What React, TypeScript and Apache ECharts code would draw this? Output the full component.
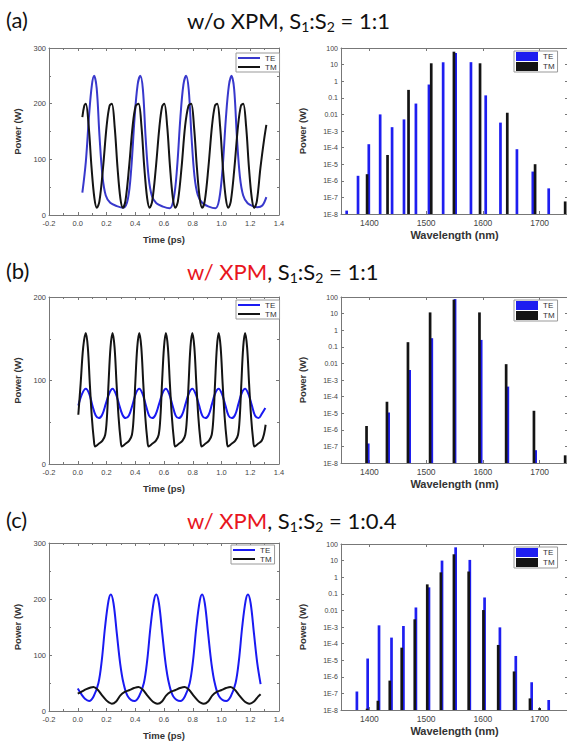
import React, { useEffect, useRef } from "react";
import * as echarts from "echarts";

// ---------- Time-domain traces: [time (ps), power (W)] ----------
const TE_A: number[][] = [
  [0.032, 40], [0.056, 95], [0.079, 180], [0.098, 233], [0.114, 250], [0.132, 227], [0.151, 143], [0.172, 70], [0.195, 35], [0.226, 22], [0.272, 16], [0.319, 13],
  [0.349, 29], [0.372, 83], [0.395, 173], [0.416, 233], [0.435, 250], [0.453, 226], [0.472, 140], [0.493, 68], [0.516, 34], [0.547, 21], [0.593, 15], [0.640, 12],
  [0.668, 30], [0.691, 85], [0.714, 175], [0.735, 234], [0.754, 250], [0.772, 225], [0.791, 142], [0.812, 70], [0.835, 36], [0.866, 22], [0.912, 15], [0.958, 12],
  [0.984, 28], [1.007, 82], [1.030, 172], [1.051, 232], [1.070, 250], [1.088, 226], [1.107, 141], [1.128, 69], [1.151, 35], [1.182, 21], [1.228, 15], [1.250, 14], [1.284, 17], [1.312, 32],
];
const TM_A: number[][] = [
  [0.032, 176], [0.045, 196], [0.056, 200], [0.076, 160], [0.096, 85], [0.116, 30], [0.133, 13], [0.151, 25], [0.176, 85], [0.201, 160], [0.221, 196],
  [0.237, 200], [0.257, 158], [0.277, 84], [0.297, 29], [0.314, 13], [0.332, 26], [0.357, 86], [0.382, 160], [0.403, 196],
  [0.423, 200], [0.443, 160], [0.463, 85], [0.483, 30], [0.500, 13], [0.518, 25], [0.543, 84], [0.568, 158], [0.587, 195],
  [0.602, 200], [0.622, 160], [0.642, 86], [0.662, 30], [0.679, 13], [0.697, 25], [0.722, 85], [0.747, 160], [0.770, 196],
  [0.789, 200], [0.809, 158], [0.829, 85], [0.849, 29], [0.866, 13], [0.884, 26], [0.909, 86], [0.934, 160], [0.954, 196],
  [0.970, 200], [0.990, 160], [1.010, 84], [1.030, 30], [1.047, 13], [1.065, 25], [1.090, 85], [1.115, 160], [1.135, 196],
  [1.151, 200], [1.171, 160], [1.191, 85], [1.211, 30], [1.228, 13], [1.246, 25], [1.271, 85], [1.296, 135], [1.312, 162],
];
const TE_B: number[][] = [
  [0.004, 70], [0.030, 84], [0.056, 90], [0.080, 84], [0.102, 70], [0.125, 58], [0.147, 55], [0.170, 59], [0.195, 72], [0.220, 85],
  [0.242, 90], [0.265, 84], [0.288, 71], [0.311, 59], [0.333, 55], [0.356, 58], [0.381, 71], [0.405, 85],
  [0.428, 90], [0.451, 84], [0.473, 71], [0.496, 58], [0.518, 55], [0.541, 59], [0.566, 72], [0.590, 85],
  [0.613, 90], [0.636, 84], [0.658, 71], [0.681, 58], [0.703, 55], [0.726, 59], [0.750, 72], [0.774, 85],
  [0.797, 90], [0.820, 84], [0.843, 71], [0.866, 58], [0.888, 55], [0.911, 59], [0.934, 72], [0.957, 85],
  [0.980, 90], [1.003, 84], [1.026, 71], [1.049, 58], [1.072, 55], [1.095, 59], [1.118, 72], [1.141, 85],
  [1.164, 90], [1.187, 84], [1.210, 71], [1.233, 58], [1.257, 55], [1.280, 60], [1.305, 67],
];
const TM_B: number[][] = [
  [0.004, 59], [0.020, 96], [0.038, 140], [0.056, 157],
  [0.070, 140], [0.084, 96], [0.098, 56], [0.112, 29], [0.121, 21], [0.144, 24], [0.172, 28], [0.191, 35], [0.203, 56], [0.214, 96], [0.228, 140],
  [0.242, 157], [0.256, 140], [0.270, 96], [0.284, 56], [0.298, 29], [0.307, 21], [0.330, 24], [0.358, 28], [0.377, 35], [0.389, 56], [0.400, 96], [0.414, 140],
  [0.428, 157], [0.442, 140], [0.456, 96], [0.470, 56], [0.484, 29], [0.493, 21], [0.516, 24], [0.544, 28], [0.563, 35], [0.575, 56], [0.586, 96], [0.600, 140],
  [0.613, 157], [0.627, 140], [0.641, 96], [0.655, 56], [0.669, 29], [0.678, 21], [0.701, 24], [0.729, 28], [0.748, 35], [0.760, 56], [0.771, 96], [0.784, 140],
  [0.797, 157], [0.811, 140], [0.825, 96], [0.839, 56], [0.853, 29], [0.862, 21], [0.885, 24], [0.913, 28], [0.932, 35], [0.944, 56], [0.955, 96], [0.968, 140],
  [0.980, 157], [0.994, 140], [1.008, 96], [1.022, 56], [1.036, 29], [1.045, 21], [1.068, 24], [1.096, 28], [1.115, 35], [1.127, 56], [1.138, 96], [1.151, 140],
  [1.164, 157], [1.178, 140], [1.192, 96], [1.206, 56], [1.220, 29], [1.229, 21], [1.252, 24], [1.280, 28], [1.296, 36], [1.307, 47],
];
const TE_C: number[][] = [
  [0.000, 40], [0.025, 30], [0.050, 22], [0.079, 18],
  [0.110, 26], [0.144, 50], [0.167, 90], [0.190, 150], [0.214, 197], [0.230, 208], [0.249, 192], [0.272, 138], [0.295, 85], [0.318, 50], [0.349, 26], [0.395, 18],
  [0.426, 26], [0.460, 50], [0.483, 90], [0.506, 150], [0.530, 197], [0.546, 208], [0.565, 192], [0.588, 138], [0.611, 85], [0.634, 50], [0.665, 26], [0.714, 18],
  [0.745, 26], [0.779, 50], [0.802, 90], [0.825, 150], [0.849, 197], [0.865, 208], [0.884, 192], [0.907, 138], [0.930, 85], [0.953, 50], [0.984, 26], [1.033, 18],
  [1.064, 26], [1.098, 50], [1.121, 90], [1.144, 150], [1.168, 197], [1.184, 208], [1.203, 192], [1.226, 138], [1.249, 85], [1.272, 48],
];
const TM_C: number[][] = [
  [0.000, 31], [0.030, 35], [0.060, 39], [0.090, 42], [0.109, 43], [0.139, 38], [0.169, 28], [0.199, 19], [0.219, 15], [0.237, 13],
  [0.267, 17], [0.297, 28], [0.327, 34], [0.357, 37], [0.392, 41], [0.423, 43], [0.453, 38], [0.483, 28], [0.513, 19], [0.533, 15], [0.556, 13],
  [0.586, 17], [0.616, 28], [0.646, 34], [0.676, 37], [0.711, 41], [0.744, 43], [0.774, 38], [0.804, 28], [0.834, 19], [0.854, 15], [0.877, 13],
  [0.907, 17], [0.937, 28], [0.967, 34], [0.997, 37], [1.032, 41], [1.063, 43], [1.093, 38], [1.123, 28], [1.153, 19], [1.173, 15], [1.196, 13],
  [1.226, 17], [1.256, 26], [1.272, 30],
];

// ---------- Spectra: wavelength (nm) and power (W) ----------
const WL_TE_A = [1360, 1380, 1399, 1419, 1440, 1461, 1482, 1505, 1530, 1552, 1579, 1605, 1631, 1660, 1688, 1716];
const P_TE_A = [1.6e-8, 2e-6, 1.6e-4, 0.01, 1.7e-3, 5e-3, 0.045, 0.63, 13.8, 50, 14, 0.14, 3.2e-3, 8e-5, 3.6e-6, 3.5e-7];
const WL_TM_A = [1396, 1432, 1469, 1509, 1549, 1595, 1643, 1692, 1745];
const P_TM_A = [2.5e-6, 3.6e-5, 0.3, 12, 60, 12, 0.0126, 1e-5, 5.7e-8];

const WL_TE_B = [1398, 1434, 1471, 1510, 1551, 1597, 1644, 1693];
const P_TE_B = [1.5e-7, 1.1e-5, 4e-3, 0.33, 75, 0.26, 4e-4, 5.9e-8];
const WL_TM_B = [1395, 1431, 1468, 1507, 1549, 1594, 1641, 1690, 1745];
const P_TM_B = [1.7e-6, 4.9e-5, 0.19, 11.8, 69, 11.8, 9e-3, 1.4e-5, 2.9e-8];

const WL_TE_C = [1378, 1397, 1417, 1439, 1460, 1482, 1505, 1528, 1552, 1577, 1603, 1630, 1658, 1686, 1716];
const P_TE_C = [1.3e-7, 1.26e-5, 1.26e-3, 2.3e-4, 1.15e-3, 0.015, 0.245, 10, 63, 11, 0.06, 9.5e-4, 1.8e-5, 4.7e-7, 4e-8];
const WL_TM_C = [1396, 1415, 1436, 1457, 1480, 1502, 1526, 1549, 1575, 1601, 1627, 1655, 1683, 1700];
const P_TM_C = [1.2e-8, 3.6e-8, 5.9e-7, 5.7e-5, 2.9e-3, 0.37, 1.96, 24, 2.2, 0.0105, 8.3e-5, 2.1e-6, 5e-8, 1.3e-8];

// ---------- Axis settings ----------
const TIME_MIN = -0.2;
const TIME_MAX = 1.4;
const TIME_STEP = 0.2;
const POWER_MAX = [300, 200, 300];
const POWER_STEP = 100;
const WL_MIN = 1350;
const WL_MAX = 1750;
const LOG_MIN = -8;
const LOG_MAX = 2;

const PANEL_LETTERS = ["(a)", "(b)", "(c)"];
const TITLES = [
  "{p|w/o XPM, S}{s|1}{p|:S}{s|2}{p| = 1:1}",
  "{r|w/ XPM}{p|, S}{s|1}{p|:S}{s|2}{p| = 1:1}",
  "{r|w/ XPM}{p|, S}{s|1}{p|:S}{s|2}{p| = 1:0.4}",
];

const FONT = '"Liberation Sans", Arial, sans-serif';
const TITLE_FONT = "Lato, Carlito, Calibri, sans-serif";
const AXIS_COLOR = "#777";
const TE_LINE_COLORS = ["#3838cc", "#1a1af2", "#1a1af2"];
const TM_COLOR = "#141414";
const TE_BAR = "#1e1ef0";

const expLabel = (v: number) => {
  const e = Math.round(v);
  if (e >= 0) return String(Math.pow(10, e));
  if (e === -1) return "0.1";
  if (e === -2) return "0.01";
  return "1E" + e;
};

function buildOption() {
  const grids: any[] = [];
  const xAxes: any[] = [];
  const yAxes: any[] = [];
  const mirrorX: any[] = [];
  const mirrorY: any[] = [];
  const series: any[] = [];
  const legends: any[] = [];
  const graphics: any[] = [];

  const leftGrid = [
    { top: 48, height: 167 },
    { top: 297, height: 167 },
    { top: 543, height: 168 },
  ];
  const rightGrid = [
    { top: 48, height: 166 },
    { top: 297, height: 166 },
    { top: 544, height: 166 },
  ];
  const lineLegend = [
    { left: 236, top: 53 },
    { left: 236, top: 300 },
    { left: 231, top: 545 },
  ];
  const barLegend = [
    { left: 514, top: 51 },
    { left: 514, top: 300 },
    { left: 514, top: 547 },
  ];
  const titleY = [20, 271, 520];

  const timeData = [
    [TE_A, TM_A],
    [TE_B, TM_B],
    [TE_C, TM_C],
  ];
  const specData = [
    [WL_TE_A, P_TE_A, WL_TM_A, P_TM_A],
    [WL_TE_B, P_TE_B, WL_TM_B, P_TM_B],
    [WL_TE_C, P_TE_C, WL_TM_C, P_TM_C],
  ];

  const baseAxis = {
    axisLine: { show: true, onZero: false, lineStyle: { color: AXIS_COLOR, width: 1 } },
    axisTick: { show: true, inside: true, length: 3, lineStyle: { color: AXIS_COLOR } },
    splitLine: { show: false },
    nameMoveOverlap: false,
    nameTextStyle: { fontSize: 9.5, fontWeight: "bold", color: "#333", fontFamily: FONT },
  };

  const tags = ["a", "b", "c"];

  for (let k = 0; k < 3; k++) {
    // ---- time-domain panel ----
    const gi = grids.length;
    grids.push({ left: 49, width: 230, top: leftGrid[k].top, height: leftGrid[k].height, containLabel: false, outerBoundsMode: "none" });
    xAxes.push({
      ...baseAxis,
      type: "value",
      gridIndex: gi,
      min: TIME_MIN,
      max: TIME_MAX,
      interval: TIME_STEP,
      position: "bottom",
      minorTick: { show: true, splitNumber: 2, length: 2, lineStyle: { color: AXIS_COLOR } },
      axisLabel: { fontSize: 7.5, color: "#444", fontFamily: FONT, margin: 4, formatter: (v: number) => v.toFixed(1) },
      name: "Time (ps)",
      nameLocation: "middle",
      nameGap: 19,
    });
    mirrorX.push({
      ...baseAxis,
      type: "value",
      gridIndex: gi,
      min: TIME_MIN,
      max: TIME_MAX,
      interval: TIME_STEP,
      position: "top",
      minorTick: { show: true, splitNumber: 2, length: 2, lineStyle: { color: AXIS_COLOR } },
      axisLabel: { show: false },
    });
    yAxes.push({
      ...baseAxis,
      type: "value",
      gridIndex: gi,
      min: 0,
      max: POWER_MAX[k],
      interval: POWER_STEP,
      position: "left",
      minorTick: { show: true, splitNumber: 2, length: 2, lineStyle: { color: AXIS_COLOR } },
      axisLabel: { fontSize: 7.5, color: "#444", fontFamily: FONT, margin: 3 },
      name: "Power (W)",
      nameLocation: "middle",
      nameGap: 27,
    });
    mirrorY.push({
      ...baseAxis,
      type: "value",
      gridIndex: gi,
      min: 0,
      max: POWER_MAX[k],
      interval: POWER_STEP,
      position: "right",
      minorTick: { show: true, splitNumber: 2, length: 2, lineStyle: { color: AXIS_COLOR } },
      axisLabel: { show: false },
    });
    const teName = "TE_t" + tags[k];
    const tmName = "TM_t" + tags[k];
    series.push({
      type: "line",
      name: teName,
      xAxisIndex: gi,
      yAxisIndex: gi,
      data: timeData[k][0],
      symbol: "none",
      smooth: 0.35,
      lineStyle: { color: TE_LINE_COLORS[k], width: 2 },
      itemStyle: { color: TE_LINE_COLORS[k] },
      clip: true,
    });
    series.push({
      type: "line",
      name: tmName,
      xAxisIndex: gi,
      yAxisIndex: gi,
      data: timeData[k][1],
      symbol: "none",
      smooth: 0.35,
      lineStyle: { color: TM_COLOR, width: 2 },
      itemStyle: { color: TM_COLOR },
      clip: true,
    });
    legends.push({
      orient: "vertical",
      left: lineLegend[k].left,
      top: lineLegend[k].top,
      itemWidth: 22,
      itemHeight: 2,
      itemGap: 1,
      padding: [1, 3, 1, 2],
      borderColor: "#999",
      borderWidth: 1,
      backgroundColor: "#fff",
      selectedMode: false,
      textStyle: { fontSize: 8, color: "#333", fontFamily: FONT },
      formatter: (n: string) => n.split("_")[0],
      data: [
        { name: teName, icon: "rect", itemStyle: { color: TE_LINE_COLORS[k], borderWidth: 0 } },
        { name: tmName, icon: "rect", itemStyle: { color: TM_COLOR, borderWidth: 0 } },
      ],
    });
  }

  for (let k = 0; k < 3; k++) {
    // ---- spectrum panel ----
    const gi = grids.length;
    grids.push({ left: 341, width: 227, top: rightGrid[k].top, height: rightGrid[k].height, containLabel: false, outerBoundsMode: "none" });
    const wlFormatter = (v: number) => (Math.abs(v % 100) < 1e-6 ? String(v) : "");
    xAxes.push({
      ...baseAxis,
      type: "value",
      gridIndex: gi,
      min: WL_MIN,
      max: WL_MAX,
      splitNumber: 4,
      position: "bottom",
      axisLabel: { fontSize: 8.5, color: "#444", fontFamily: FONT, margin: 4, showMinLabel: false, showMaxLabel: false, formatter: wlFormatter },
      name: "Wavelength (nm)",
      nameLocation: "middle",
      nameGap: 15,
      nameTextStyle: { ...baseAxis.nameTextStyle, fontSize: 11 },
    });
    mirrorX.push({
      ...baseAxis,
      type: "value",
      gridIndex: gi,
      min: WL_MIN,
      max: WL_MAX,
      splitNumber: 4,
      position: "top",
      axisLabel: { show: false },
    });
    yAxes.push({
      ...baseAxis,
      type: "value",
      gridIndex: gi,
      min: LOG_MIN,
      max: LOG_MAX,
      interval: 1,
      position: "left",
      axisLabel: { fontSize: 7, color: "#444", fontFamily: FONT, margin: 3, formatter: expLabel },
      name: "Power (W)",
      nameLocation: "middle",
      nameGap: 34,
    });
    mirrorY.push({
      ...baseAxis,
      type: "value",
      gridIndex: gi,
      min: LOG_MIN,
      max: LOG_MAX,
      interval: 1,
      position: "right",
      axisLabel: { show: false },
    });
    const [wlTe, pTe, wlTm, pTm] = specData[k];
    const teName = "TE_s" + tags[k];
    const tmName = "TM_s" + tags[k];
    const mkBars = (color: string) => (params: any, api: any) => {
      const x = api.value(0);
      const y = api.value(1);
      const top = api.coord([x, y]);
      const base = api.coord([x, LOG_MIN]);
      const w = 2.7;
      return {
        type: "rect",
        shape: { x: top[0] - w / 2, y: top[1], width: w, height: base[1] - top[1] },
        style: { fill: color },
      };
    };
    series.push({
      type: "custom",
      name: teName,
      xAxisIndex: gi,
      yAxisIndex: gi,
      clip: true,
      itemStyle: { color: TE_BAR },
      renderItem: mkBars(TE_BAR),
      data: wlTe.map((w, i) => [w, Math.log10(pTe[i])]),
    });
    series.push({
      type: "custom",
      name: tmName,
      xAxisIndex: gi,
      yAxisIndex: gi,
      clip: true,
      itemStyle: { color: TM_COLOR },
      renderItem: mkBars(TM_COLOR),
      data: wlTm.map((w, i) => [w, Math.log10(pTm[i])]),
    });
    legends.push({
      orient: "vertical",
      left: barLegend[k].left,
      top: barLegend[k].top,
      itemWidth: 22,
      itemHeight: 9,
      itemGap: 1,
      padding: [1, 3, 1, 2],
      borderColor: "#999",
      borderWidth: 1,
      backgroundColor: "#fff",
      selectedMode: false,
      textStyle: { fontSize: 8, color: "#333", fontFamily: FONT },
      formatter: (n: string) => n.split("_")[0],
      data: [
        { name: teName, icon: "rect", itemStyle: { color: TE_BAR, borderWidth: 0 } },
        { name: tmName, icon: "rect", itemStyle: { color: TM_COLOR, borderWidth: 0 } },
      ],
    });
  }

  for (let k = 0; k < 3; k++) {
    graphics.push({
      type: "text",
      x: 6,
      y: titleY[k] - 1,
      style: {
        text: PANEL_LETTERS[k],
        fontSize: 22,
        fontFamily: TITLE_FONT,
        fill: "#111",
        verticalAlign: "middle",
        align: "left",
      },
    });
    graphics.push({
      type: "text",
      x: 187,
      y: titleY[k],
      style: {
        text: TITLES[k],
        verticalAlign: "middle",
        align: "left",
        fontSize: 22,
        fontFamily: TITLE_FONT,
        fill: "#111",
        rich: {
          p: { fontSize: 22, fontFamily: TITLE_FONT, fill: "#111", lineHeight: 26 },
          r: { fontSize: 22, fontFamily: TITLE_FONT, fill: "#e8161e", lineHeight: 26 },
          s: { fontSize: 14, fontFamily: TITLE_FONT, fill: "#111", lineHeight: 14, verticalAlign: "bottom" },
        },
      },
    });
  }

  return {
    animation: false,
    backgroundColor: "#fff",
    grid: grids,
    xAxis: [...xAxes, ...mirrorX],
    yAxis: [...yAxes, ...mirrorY],
    legend: legends,
    series,
    graphic: graphics,
  };
}

export default function App() {
  const ref = useRef<HTMLDivElement>(null);
  useEffect(() => {
    if (!ref.current) return;
    const chart = echarts.init(ref.current, null, { renderer: "svg" });
    chart.setOption(buildOption() as any);
    return () => chart.dispose();
  }, []);
  return (
    <div style={{ position: "absolute", left: 0, top: 0, width: 567, height: 745, overflow: "hidden", background: "#fff" }}>
      <div ref={ref} style={{ width: 580, height: 745 }} />
    </div>
  );
}
